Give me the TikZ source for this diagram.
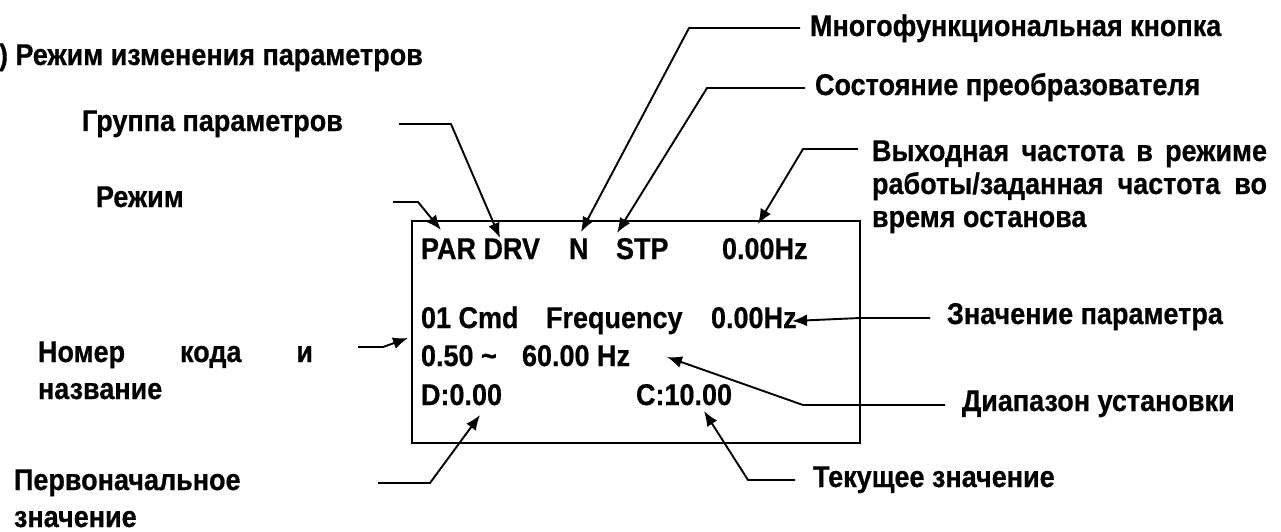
\documentclass[tikz,border=0pt]{standalone}
\usepackage{fontspec}
\setmainfont[FakeStretch=0.9, BoldFeatures={FakeBold=0.6}]{Liberation Sans}
\usetikzlibrary{arrows.meta}
\begin{document}
\begin{tikzpicture}[x=1pt,y=-1pt,
  lbl/.style={anchor=base west, inner sep=0pt, outer sep=0pt, font=\fontsize{30}{33}\selectfont\bfseries},
  con/.style={line width=1.9pt, -{Latex[length=15pt,width=12pt]}, line join=miter},
  lcdbox/.style={draw, line width=2.5pt, inner sep=0pt, outer sep=0pt, anchor=north west}
]
\useasboundingbox (0,0) rectangle (1281,531);

% labels
\node[lbl] (title) at (-1,65) {) Режим изменения параметров};
\node[lbl] (grp) at (82,131) {Группа параметров};
\node[lbl] (rezh) at (96,207) {Режим};
\node[lbl] (mnog) at (810,36) {Многофункциональная кнопка};
\node[lbl] (sost) at (815,95) {Состояние преобразователя};
\node[lbl] (vyh1) at (872,161) {\makebox[395pt][s]{Выходная частота в режиме}};
\node[lbl] (vyh2) at (872,194) {\makebox[395pt][s]{работы/заданная частота во}};
\node[lbl] (vyh3) at (872,227) {время останова};
\node[lbl] (nom1) at (38,362) {\makebox[275pt][s]{Номер кода и}};
\node[lbl] (nom2) at (38,399) {название};
\node[lbl] (znp) at (947,324) {Значение параметра};
\node[lbl] (diap) at (962,411) {Диапазон установки};
\node[lbl] (tek) at (813,487) {Текущее значение};
\node[lbl] (perv1) at (14,490) {Первоначальное};
\node[lbl] (perv2) at (14,527) {значение};

% display
\node[lbl, lcdbox, minimum width=448pt, minimum height=222pt] (lcd) at (412,221) {};
\node[lbl] (r1a) at (421,259) {PAR DRV};
\node[lbl] (r1n) at (569,259) {N};
\node[lbl] (r1s) at (616,259) {STP};
\node[lbl] (r1f) at (722,259) {0.00Hz};
\node[lbl] (r2a) at (421,328) {01 Cmd};
\node[lbl] (r2b) at (546,328) {Frequency};
\node[lbl] (r2c) at (711,328) {0.00Hz};
\node[lbl] (r3a) at (421,366) {0.50 \string~};
\node[lbl] (r3b) at (522,366) {60.00 Hz};
\node[lbl] (r4a) at (421,405) {D:0.00};
\node[lbl] (r4b) at (636,405) {C:10.00};

% connector points
\coordinate (a1) at (393,202); \coordinate (b1) at (418,202); \coordinate (t1) at (441,230);
\coordinate (a2) at (399,124); \coordinate (b2) at (451,124); \coordinate (t2) at (500,238);
\coordinate (a3) at (800,28);  \coordinate (b3) at (689,28);  \coordinate (t3) at (581,232);
\coordinate (a4) at (805,88);  \coordinate (b4) at (707,88);  \coordinate (t4) at (617,233);
\coordinate (a5) at (858,149); \coordinate (b5) at (803,149); \coordinate (t5) at (758,224);
\coordinate (a6) at (358,347); \coordinate (b6) at (383,347); \coordinate (t6) at (408,338);
\coordinate (a7) at (930,318); \coordinate (b7) at (860,318); \coordinate (t7) at (792,321);
\coordinate (a8) at (945,405); \coordinate (b8) at (803,405); \coordinate (t8) at (667,357);
\coordinate (a9) at (795,480); \coordinate (b9) at (748,480); \coordinate (t9) at (704,411);
\coordinate (a10) at (378,483); \coordinate (b10) at (430,483); \coordinate (t10) at (480,415);

\draw[con] (a1) -- (b1) -- (t1);
\draw[con] (a2) -- (b2) -- (t2);
\draw[con] (a3) -- (b3) -- (t3);
\draw[con] (a4) -- (b4) -- (t4);
\draw[con] (a5) -- (b5) -- (t5);
\draw[con] (a6) -- (b6) -- (t6);
\draw[con] (a7) -- (b7) -- (t7);
\draw[con] (a8) -- (b8) -- (t8);
\draw[con] (a9) -- (b9) -- (t9);
\draw[con] (a10) -- (b10) -- (t10);
\end{tikzpicture}
\end{document}
